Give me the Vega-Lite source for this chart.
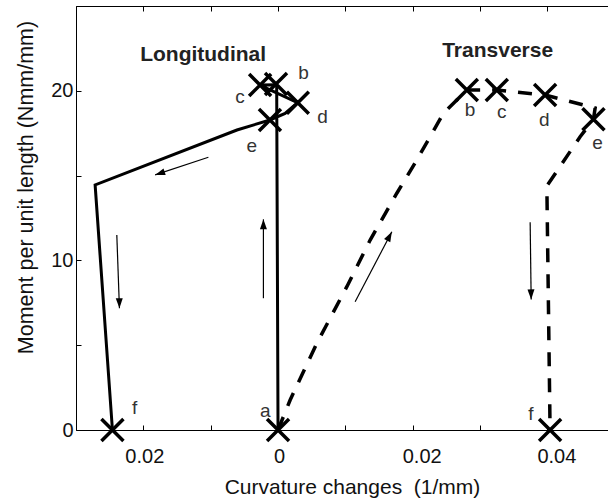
{
  "$schema": "https://vega.github.io/schema/vega-lite/v6.json",
  "width": 532,
  "height": 424,
  "autosize": "none",
  "padding": {"left": 76, "top": 6, "right": 0, "bottom": 71},
  "background": "white",
  "config": {"view": {"stroke": null}, "font": "Liberation Sans"},
  "datasets": {
    "long": [
      {"i": 1, "x": 0, "y": 0},
      {"i": 2, "x": -0.0002, "y": 20.35},
      {"i": 3, "x": -0.0027, "y": 20.34},
      {"i": 4, "x": 0.0029, "y": 19.3},
      {"i": 5, "x": 0.00105, "y": 18.67},
      {"i": 6, "x": -0.0012, "y": 18.28},
      {"i": 7, "x": -0.0061, "y": 17.69},
      {"i": 8, "x": -0.02716, "y": 14.45},
      {"i": 9, "x": -0.02459, "y": 0}
    ],
    "trans": [
      {"i": 1, "x": 0, "y": 0},
      {"i": 2, "x": 0.0018, "y": 1.77},
      {"i": 3, "x": 0.00576, "y": 5.11},
      {"i": 4, "x": 0.01022, "y": 8.45},
      {"i": 5, "x": 0.01368, "y": 11.2},
      {"i": 6, "x": 0.01764, "y": 13.96},
      {"i": 7, "x": 0.02061, "y": 15.92},
      {"i": 8, "x": 0.02456, "y": 18.67},
      {"i": 9, "x": 0.02804, "y": 20.05},
      {"i": 10, "x": 0.03249, "y": 20.05},
      {"i": 11, "x": 0.03966, "y": 19.75},
      {"i": 12, "x": 0.04709, "y": 18.99},
      {"i": 13, "x": 0.04684, "y": 18.32},
      {"i": 14, "x": 0.04486, "y": 17.29},
      {"i": 15, "x": 0.03992, "y": 14.39},
      {"i": 16, "x": 0.0404, "y": 0}
    ],
    "markers": [
      {"s": "L", "k": "a", "x": 0, "y": 0},
      {"s": "L", "k": "b", "x": -0.0003, "y": 20.4},
      {"s": "L", "k": "c", "x": -0.00266, "y": 20.34},
      {"s": "L", "k": "d", "x": 0.00294, "y": 19.3},
      {"s": "L", "k": "e", "x": -0.0012, "y": 18.28},
      {"s": "L", "k": "f", "x": -0.02459, "y": 0},
      {"s": "T", "k": "b", "x": 0.02804, "y": 20.05},
      {"s": "T", "k": "c", "x": 0.03249, "y": 20.05},
      {"s": "T", "k": "d", "x": 0.03966, "y": 19.75},
      {"s": "T", "k": "e", "x": 0.04684, "y": 18.32},
      {"s": "T", "k": "f", "x": 0.0404, "y": 0}
    ],
    "letters": [
      {"k": "a", "x": -0.0019, "y": 1.14},
      {"k": "f", "x": -0.0213, "y": 1.31},
      {"k": "b", "x": 0.00377, "y": 21.03},
      {"k": "c", "x": -0.00563, "y": 19.62},
      {"k": "d", "x": 0.0066, "y": 18.44},
      {"k": "e", "x": -0.0039, "y": 16.75},
      {"k": "b", "x": 0.02853, "y": 18.87},
      {"k": "c", "x": 0.03323, "y": 18.77},
      {"k": "d", "x": 0.03952, "y": 18.28},
      {"k": "e", "x": 0.04743, "y": 16.94},
      {"k": "f", "x": 0.03754, "y": 0.94}
    ],
    "titles": [
      {"t": "Longitudinal", "x": -0.01112, "y": 21.77},
      {"t": "Transverse", "x": 0.03261, "y": 22.01}
    ],
    "arrows": [
      {"id": 1, "x": -0.01034, "y": 16.08, "x1": -0.01825, "y1": 15.04},
      {"id": 2, "x": -0.02394, "y": 11.5, "x1": -0.02355, "y1": 7.18},
      {"id": 3, "x": -0.00217, "y": 7.77, "x1": -0.00217, "y1": 12.42},
      {"id": 4, "x": 0.01145, "y": 7.56, "x1": 0.0169, "y1": 11.69},
      {"id": 5, "x": 0.03744, "y": 12.25, "x1": 0.03759, "y1": 7.7}
    ]
  },
  "layer": [
    {
      "layer": [
        {
          "data": {"name": "long"},
          "mark": {"type": "line", "color": "black", "strokeWidth": 3, "strokeJoin": "miter"},
          "encoding": {
            "x": {
              "field": "x", "type": "quantitative",
              "scale": {"domain": [-0.03, 0.049], "nice": false, "zero": false},
              "axis": {
                "orient": "bottom",
                "title": "Curvature changes \u00a0(1/mm)",
                "values": [-0.03, -0.02, -0.01, 0, 0.01, 0.02, 0.03, 0.04],
                "labelExpr": "abs(round(datum.value*100)) % 2 == 0 ? (abs(datum.value) < 0.001 ? '0' : format(abs(datum.value), '.2f')) : ''",
                "grid": false,
                "tickSize": -5,
                "tickColor": "#000",
                "tickWidth": 1,
                "domainColor": "#000",
                "domainWidth": 1,
                "labelFont": "Liberation Sans",
                "labelFontSize": 20,
                "labelColor": "#111",
                "labelPadding": 21,
                "labelOverlap": false,
                "labelFlush": false,
                "labelOffset": {"condition": {"test": "datum.value > 0.001", "value": 9}, "value": 1},
                "titleFont": "Liberation Sans",
                "titleFontSize": 21,
                "titleFontWeight": "normal",
                "titleColor": "#111",
                "titleX": 276,
                "titleY": 63,
                "titleBaseline": "alphabetic",
                "titleAlign": "center"
              }
            },
            "y": {
              "field": "y", "type": "quantitative",
              "scale": {"domain": [0, 25], "nice": false, "zero": false},
              "axis": {
                "title": "Moment per unit length (Nmm/mm)",
                "values": [0, 5, 10, 15, 20, 25],
                "labelExpr": "datum.value % 10 == 0 ? datum.label : ''",
                "grid": false,
                "tickSize": -5,
                "tickColor": "#000",
                "domainColor": "#000",
                "domainWidth": 1,
                "labelFont": "Liberation Sans",
                "labelFontSize": 20,
                "labelColor": "#111",
                "labelPadding": 8,
                "labelOverlap": false,
                "labelFlush": false,
                "titleFont": "Liberation Sans",
                "titleFontSize": 21.5,
                "titleFontWeight": "normal",
                "titleColor": "#111",
                "titleX": -44,
                "titleY": 181,
                "titleAngle": 270,
                "titleBaseline": "alphabetic",
                "titleAlign": "center"
              }
            },
            "order": {"field": "i", "type": "quantitative"}
          }
        },
        {
          "data": {"name": "trans"},
          "mark": {"type": "line", "color": "black", "strokeWidth": 3.5, "strokeDash": [14, 12], "strokeCap": "butt"},
          "encoding": {
            "x": {"field": "x", "type": "quantitative", "scale": {"domain": [-0.03, 0.049], "nice": false, "zero": false}},
            "y": {"field": "y", "type": "quantitative", "scale": {"domain": [0, 25], "nice": false, "zero": false}},
            "order": {"field": "i", "type": "quantitative"}
          }
        },
        {
          "data": {"name": "markers"},
          "mark": {"type": "point", "shape": "M-1,-1L1,1M-1,1L1,-1", "filled": false, "stroke": "black", "strokeWidth": 3.5, "size": 484, "opacity": 1},
          "encoding": {
            "x": {"field": "x", "type": "quantitative", "scale": {"domain": [-0.03, 0.049], "nice": false, "zero": false}},
            "y": {"field": "y", "type": "quantitative", "scale": {"domain": [0, 25], "nice": false, "zero": false}}
          }
        },
        {
          "data": {"name": "letters"},
          "mark": {"type": "text", "font": "Liberation Sans", "fontSize": 19, "color": "#333", "align": "center", "baseline": "middle"},
          "encoding": {
            "x": {"field": "x", "type": "quantitative", "scale": {"domain": [-0.03, 0.049], "nice": false, "zero": false}},
            "y": {"field": "y", "type": "quantitative", "scale": {"domain": [0, 25], "nice": false, "zero": false}},
            "text": {"field": "k", "type": "nominal"}
          }
        },
        {
          "data": {"name": "titles"},
          "mark": {"type": "text", "font": "Liberation Sans", "fontSize": 21, "fontWeight": "bold", "color": "#222", "align": "center", "baseline": "alphabetic"},
          "encoding": {
            "x": {"field": "x", "type": "quantitative", "scale": {"domain": [-0.03, 0.049], "nice": false, "zero": false}},
            "y": {"field": "y", "type": "quantitative", "scale": {"domain": [0, 25], "nice": false, "zero": false}},
            "text": {"field": "t", "type": "nominal"}
          }
        },
        {
          "data": {"name": "arrows"},
          "mark": {"type": "rule", "color": "black", "strokeWidth": 1.2},
          "encoding": {
            "x": {"field": "x", "type": "quantitative", "scale": {"domain": [-0.03, 0.049], "nice": false, "zero": false}},
            "y": {"field": "y", "type": "quantitative", "scale": {"domain": [0, 25], "nice": false, "zero": false}},
            "x2": {"field": "x1"},
            "y2": {"field": "y1"}
          }
        },
        {
          "data": {"name": "arrows"},
          "transform": [{"filter": "datum.id == 1"}],
          "mark": {"type": "point", "shape": "M0,0L-0.7,2L0.7,2Z", "filled": true, "color": "black", "size": 100, "opacity": 1, "angle": 251.5},
          "encoding": {
            "x": {"field": "x1", "type": "quantitative", "scale": {"domain": [-0.03, 0.049], "nice": false, "zero": false}},
            "y": {"field": "y1", "type": "quantitative", "scale": {"domain": [0, 25], "nice": false, "zero": false}}
          }
        },
        {
          "data": {"name": "arrows"},
          "transform": [{"filter": "datum.id == 2 || datum.id == 5"}],
          "mark": {"type": "point", "shape": "M0,0L-0.7,2L0.7,2Z", "filled": true, "color": "black", "size": 100, "opacity": 1, "angle": 179},
          "encoding": {
            "x": {"field": "x1", "type": "quantitative", "scale": {"domain": [-0.03, 0.049], "nice": false, "zero": false}},
            "y": {"field": "y1", "type": "quantitative", "scale": {"domain": [0, 25], "nice": false, "zero": false}}
          }
        },
        {
          "data": {"name": "arrows"},
          "transform": [{"filter": "datum.id == 3"}],
          "mark": {"type": "point", "shape": "M0,0L-0.7,2L0.7,2Z", "filled": true, "color": "black", "size": 100, "opacity": 1, "angle": 0},
          "encoding": {
            "x": {"field": "x1", "type": "quantitative", "scale": {"domain": [-0.03, 0.049], "nice": false, "zero": false}},
            "y": {"field": "y1", "type": "quantitative", "scale": {"domain": [0, 25], "nice": false, "zero": false}}
          }
        },
        {
          "data": {"name": "arrows"},
          "transform": [{"filter": "datum.id == 4"}],
          "mark": {"type": "point", "shape": "M0,0L-0.7,2L0.7,2Z", "filled": true, "color": "black", "size": 100, "opacity": 1, "angle": 27.7},
          "encoding": {
            "x": {"field": "x1", "type": "quantitative", "scale": {"domain": [-0.03, 0.049], "nice": false, "zero": false}},
            "y": {"field": "y1", "type": "quantitative", "scale": {"domain": [0, 25], "nice": false, "zero": false}}
          }
        }
      ]
    },
    {
      "data": {"name": "markers"},
      "mark": {"type": "rule", "strokeOpacity": 0},
      "encoding": {
        "x": {
          "field": "x", "type": "quantitative",
          "scale": {"domain": [-0.03, 0.049], "nice": false, "zero": false},
          "axis": {
            "orient": "top",
            "labels": false,
            "title": null,
            "values": [-0.03, -0.02, -0.01, 0, 0.01, 0.02, 0.03, 0.04],
            "grid": false,
            "tickSize": -5,
            "tickColor": "#000",
            "domainColor": "#000",
            "domainWidth": 1
          }
        }
      }
    }
  ],
  "resolve": {"axis": {"x": "independent"}}
}
